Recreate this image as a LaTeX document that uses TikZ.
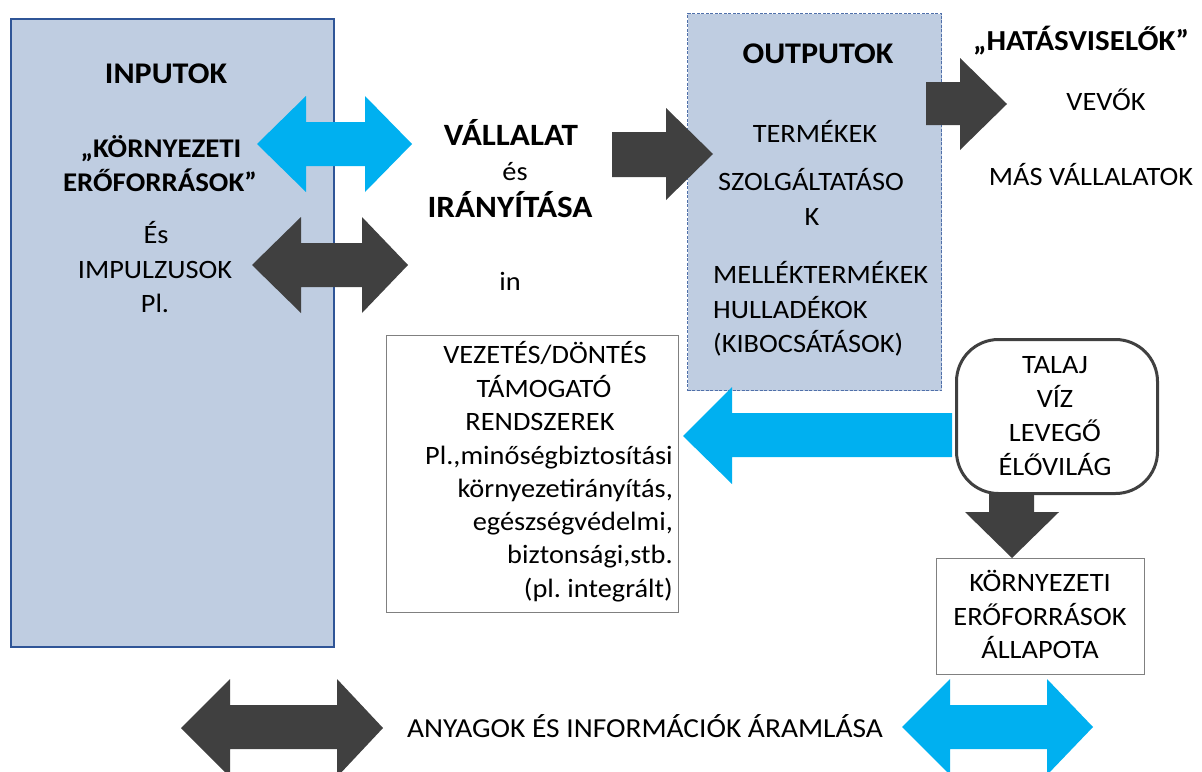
\documentclass[tikz,border=0pt]{standalone}
\usepackage{fontspec}
\setmainfont{Carlito}[FakeStretch=1.07]
\frenchspacing
\definecolor{panel}{RGB}{191,205,225}
\definecolor{panelline}{RGB}{47,85,151}
\definecolor{dashline}{RGB}{80,112,170}
\definecolor{flowblue}{RGB}{0,176,240}
\definecolor{flowdark}{RGB}{64,64,64}
\definecolor{boxgray}{RGB}{128,128,128}
\tikzset{
  rt/.style={inner sep=0pt, anchor=base, font=\fontsize{26.5}{31}\selectfont},
  bt/.style={rt, font=\fontsize{30}{35}\selectfont\bfseries},
  panelbox/.style={draw=panelline, line width=1.5pt, fill=panel, inner sep=0pt, anchor=north west},
  outbox/.style={draw=dashline, line width=1pt, dash pattern=on 3pt off 1.5pt, fill=panel, inner sep=0pt, anchor=north west},
  plainbox/.style={draw=boxgray, line width=1.2pt, fill=white, inner sep=0pt, anchor=north west},
  roundbox/.style={draw=flowdark, line width=3pt, fill=white, rounded corners=42pt, inner sep=0pt, anchor=north west},
}
\begin{document}
\begin{tikzpicture}[x=1pt,y=-1pt]
\useasboundingbox (0,0) rectangle (1202,771);
\fill[white] (0,0) rectangle (1202,771);

% boxes
\node[panelbox, minimum width=323pt, minimum height=628pt] (inputs) at (10,18) {};
\node[outbox, minimum width=254pt, minimum height=377pt] (outputs) at (687,13) {};
\node[plainbox, minimum width=292pt, minimum height=277pt] (support) at (386,335) {};
\node[roundbox, minimum width=201pt, minimum height=154pt] (media) at (955,338) {};
\node[draw=boxgray, line width=1pt, fill=white, inner sep=0pt, anchor=north west,
      minimum width=208pt, minimum height=116pt] (state) at (936,558) {};

% block arrows
\fill[flowblue] (257,144) -- (306,96) -- (306,122) -- (365,122) -- (365,96) -- (412,144)
  -- (365,192) -- (365,166) -- (306,166) -- (306,192) -- cycle;
\fill[flowdark] (252,265) -- (301,217) -- (301,243) -- (362,243) -- (362,217) -- (408,265)
  -- (362,313) -- (362,287) -- (301,287) -- (301,313) -- cycle;
\fill[flowdark] (612,132) -- (666,132) -- (666,108) -- (713,154) -- (666,200) -- (666,177)
  -- (612,177) -- cycle;
\fill[flowdark] (926,82) -- (960,82) -- (960,58) -- (1007,104) -- (960,150) -- (960,125)
  -- (926,125) -- cycle;
\fill[flowblue] (952,413) -- (732,413) -- (732,387) -- (683,436) -- (732,484) -- (732,457)
  -- (952,457) -- cycle;
\fill[flowdark] (989,492) -- (989,512) -- (965,512) -- (1012,558)
  -- (1059,512) -- (1034,512) -- (1034,492) -- cycle;
\fill[flowdark] (181,728) -- (230,679) -- (230,705) -- (337,705) -- (337,679) -- (383,728)
  -- (337,777) -- (337,749) -- (230,749) -- (230,777) -- cycle;
\fill[flowblue] (902,727) -- (950,679) -- (950,705) -- (1047,705) -- (1047,679) -- (1093,727)
  -- (1047,775) -- (1047,749) -- (950,749) -- (950,775) -- cycle;

% inputs
\node[bt] (inTitle) at (166,83) {INPUTOK};
\node[bt, font=\fontsize{27}{32}\selectfont\bfseries] (inRes1) at (161,157) {„KÖRNYEZETI};
\node[bt, font=\fontsize{27}{32}\selectfont\bfseries] (inRes2) at (160,191) {ERŐFORRÁSOK”};
\node[rt] (inAnd) at (156,243) {És};
\node[rt] (inImp) at (155,278) {IMPULZUSOK};
\node[rt] (inEg) at (155,312) {Pl.};

% company
\node[bt, font=\fontsize{31}{36}\selectfont\bfseries] (coName) at (511,145) {VÁLLALAT};
\node[rt] (coAnd) at (515,180) {és};
\node[bt, font=\fontsize{31}{36}\selectfont\bfseries] (coMgmt) at (510,217) {IRÁNYÍTÁSA};
\node[rt] (coIn) at (510,290) {in};

% outputs
\node[bt] (outTitle) at (818,63) {OUTPUTOK};
\node[rt] (outA) at (815,142) {TERMÉKEK};
\node[rt] (outB) at (811,190) {SZOLGÁLTATÁSO};
\node[rt] (outC) at (812,225) {K};
\node[rt, anchor=base west] (outD) at (713,283) {MELLÉKTERMÉKEK};
\node[rt, anchor=base west] (outE) at (713,318) {HULLADÉKOK};
\node[rt, anchor=base west] (outF) at (713,352) {(KIBOCSÁTÁSOK)};

% stakeholders
\node[bt, font=\fontsize{29}{34}\selectfont\bfseries] (stTitle) at (1081,50) {„HATÁSVISELŐK”};
\node[rt] (stA) at (1106,110) {VEVŐK};
\node[rt] (stB) at (1091,185) {MÁS VÁLLALATOK};

% support systems
\node[rt] (suA) at (545,363) {VEZETÉS/DÖNTÉS};
\node[rt] (suB) at (544,397) {TÁMOGATÓ};
\node[rt] (suC) at (540,430) {RENDSZEREK};
\node[rt, anchor=base east] (suD) at (673,464) {Pl.,minőségbiztosítási};
\node[rt, anchor=base east] (suE) at (673,497) {környezetirányítás,};
\node[rt, anchor=base east] (suF) at (673,530) {egészségvédelmi,};
\node[rt, anchor=base east] (suG) at (673,563) {biztonsági,stb.};
\node[rt, anchor=base east] (suH) at (673,597) {(pl. integrált)};

% environmental media
\node[rt] (meA) at (1055,373) {TALAJ};
\node[rt] (meB) at (1055,407) {VÍZ};
\node[rt] (meC) at (1055,441) {LEVEGŐ};
\node[rt] (meD) at (1055,475) {ÉLŐVILÁG};

% state of resources
\node[rt] (stateA) at (1040,591) {KÖRNYEZETI};
\node[rt] (stateB) at (1040,625) {ERŐFORRÁSOK};
\node[rt] (stateC) at (1040,658) {ÁLLAPOTA};

% legend
\node[rt, font=\fontsize{27.5}{32}\selectfont] (legend) at (645,737) {ANYAGOK ÉS INFORMÁCIÓK ÁRAMLÁSA};
\end{tikzpicture}
\end{document}
